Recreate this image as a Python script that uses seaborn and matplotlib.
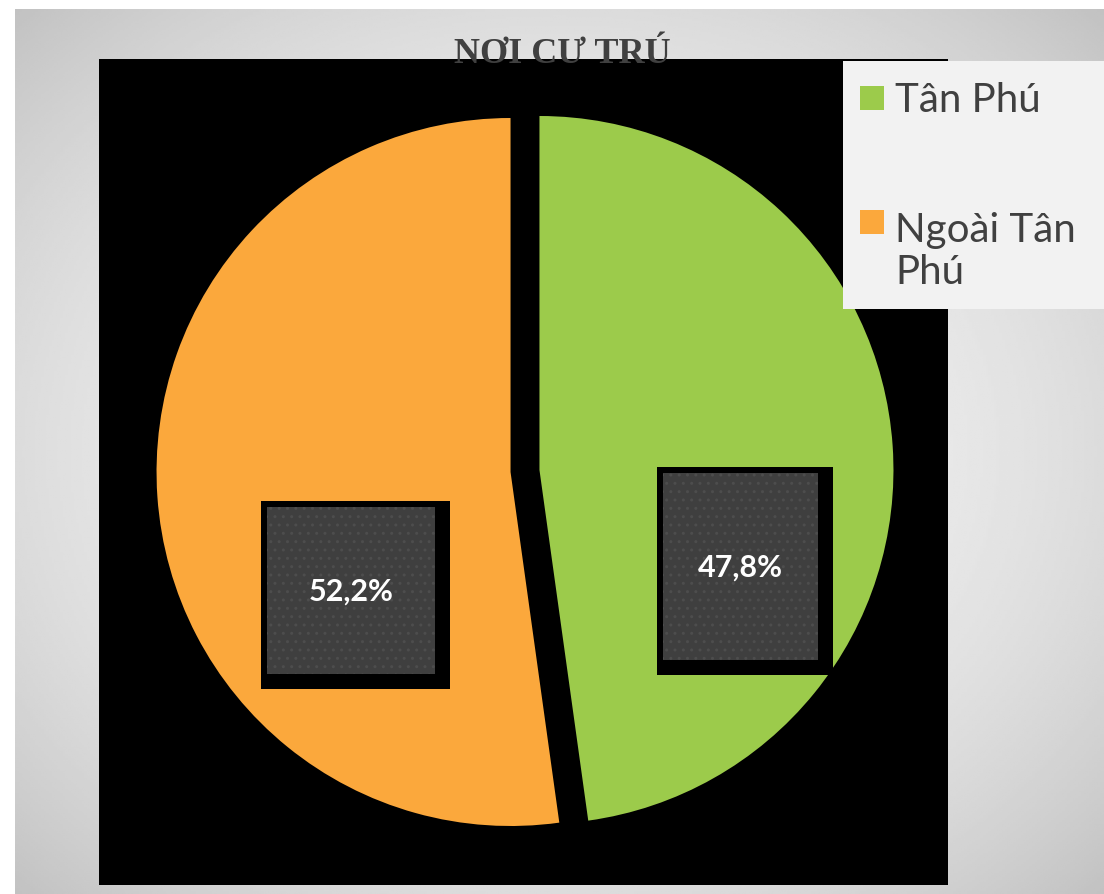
import matplotlib
matplotlib.use("Agg")
import matplotlib.pyplot as plt
import numpy as np
import seaborn as sns
from matplotlib.patches import Rectangle

# Data
categories = ["Tân Phú", "Ngoài Tân Phú"]
legend_labels = ["Tân Phú", "Ngoài Tân\nPhú"]
shares = [47.8, 52.2]
colors = ["#9CCB4B", "#FBA83C"]
title = "NƠI CƯ TRÚ"

# Layout (pixels)
W, H = 1104, 895
RADIUS = 354
EXPLODE = 14.5
label_angle = [-25.6, 216.6]
label_dist = [0.63, 0.561]
box_size = [(155, 187), (168, 167)]

sns.set_theme(style="white")
plt.rcParams["font.family"] = ["Lato", "DejaVu Sans"]

fig = plt.figure(figsize=(W / 100, H / 100), dpi=100, facecolor="white")

# Gray radial gradient backdrop
bg = fig.add_axes([15 / W, 0, (W - 15) / W, (H - 10) / H])
gx, gy = np.meshgrid(np.linspace(-1, 1, 400), np.linspace(-1, 1, 400))
r = np.sqrt(gx ** 2 + gy ** 2) / np.sqrt(2)
shade = 0.95 - 0.19 * r ** 2.2
bg.imshow(shade, cmap="gray", vmin=0, vmax=1, aspect="auto", extent=(0, 1, 0, 1))
bg.set_axis_off()

# Black plot area, 1 data unit = 1 pixel, pie centered at (0, 0)
ax = fig.add_axes([99 / W, (H - 886) / H, 849 / W, 826 / H])
wedges, texts, autotexts = ax.pie(
    shares,
    colors=colors,
    startangle=90,
    counterclock=False,
    radius=RADIUS,
    explode=[EXPLODE] * len(shares),
    autopct=lambda p: f"{p:.1f}".replace(".", ",") + "%",
    wedgeprops={"linewidth": 0},
    textprops={"color": "white", "fontsize": 22, "fontweight": "bold"},
    frame=True,
)
ax.set_facecolor("black")
ax.set_xlim(-426, 423)
ax.set_ylim(-414, 412)
ax.set_aspect("auto")
ax.set_xticks([])
ax.set_yticks([])
for s in ax.spines.values():
    s.set_visible(False)

# Data labels in dark boxes with black shadow
for w, t, ang, d, (bw, bh) in zip(wedges, autotexts, label_angle, label_dist, box_size):
    cx, cy = w.center
    x = cx + d * RADIUS * np.cos(np.radians(ang))
    y = cy + d * RADIUS * np.sin(np.radians(ang))
    t.set_position((x, y))
    t.set_ha("center")
    t.set_va("center")
    t.set_zorder(5)
    ax.add_patch(Rectangle((x - bw / 2 - 6, y - bh / 2 - 15), bw + 21, bh + 21,
                           facecolor="black", edgecolor="none", zorder=3))
    ax.add_patch(Rectangle((x - bw / 2, y - bh / 2), bw, bh, facecolor="#3f3f3f",
                           edgecolor="#4d4d4d", linewidth=0, hatch="..", zorder=4))

# Legend panel
fig.patches.append(Rectangle((843 / W, 1 - 310 / H), (W - 843) / W, 248 / H,
                             transform=fig.transFigure, facecolor="#f2f2f2",
                             edgecolor="none", zorder=1))
for i, (lab, col) in enumerate(zip(legend_labels, colors)):
    top = 87 + 124 * i
    fig.patches.append(Rectangle((860 / W, 1 - (top + 24) / H), 24 / W, 24 / H,
                                 transform=fig.transFigure, facecolor=col,
                                 edgecolor="none", zorder=2))
    # baseline alignment uses the last line of a multi-line label
    base = 112 + 124 * i + 48 * lab.count("\n")
    fig.text(895 / W, 1 - base / H, lab, fontsize=29, color="#404040",
             va="baseline", ha="left", linespacing=1.18, zorder=3)

fig.text(562 / W, 1 - 63 / H, title, fontsize=26, fontweight="bold",
         family=["Liberation Serif", "DejaVu Serif"], color="#404040",
         ha="center", va="baseline", zorder=3)

fig.savefig("out.png", dpi=100, facecolor=fig.get_facecolor())
